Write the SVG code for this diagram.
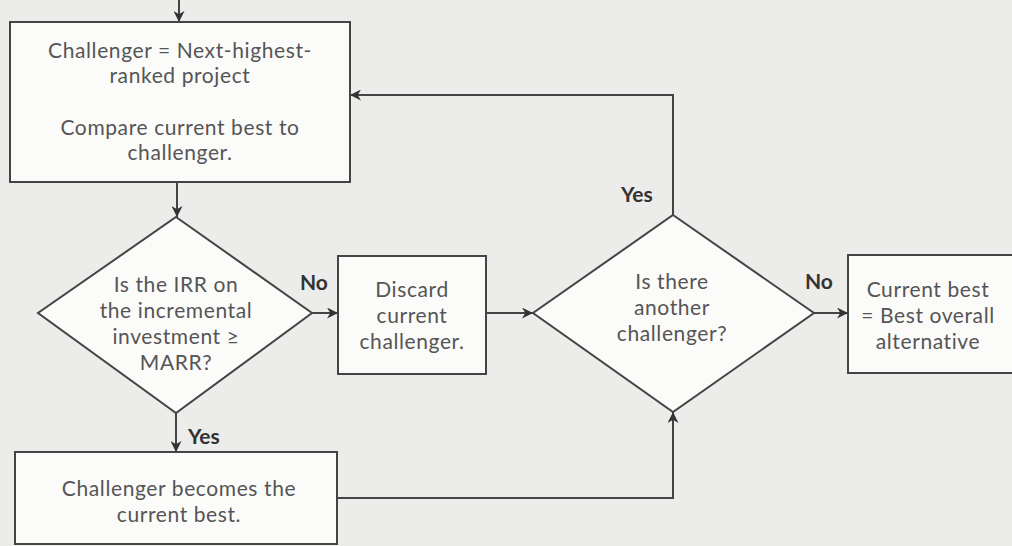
<svg xmlns="http://www.w3.org/2000/svg" width="1012" height="546" viewBox="0 0 1012 546">
<defs>
<marker id="arr" viewBox="0 0 10 10" refX="10" refY="5" markerWidth="11" markerHeight="11" markerUnits="userSpaceOnUse" orient="auto">
<path d="M0,0 L10,5 L0,10 L3,5 Z" fill="#333"/>
</marker>
</defs>
<style>
.bg{fill:#ececea}
.shape{fill:#fbfbfa;stroke:#444;stroke-width:2}
.t{font-family:Lato,"Open Sans","Liberation Sans",sans-serif;font-size:21px;letter-spacing:0.6px;fill:#555;text-anchor:middle}
.lbl{font-family:Lato,"Liberation Sans",sans-serif;font-size:21px;font-weight:bold;fill:#333}
.c{fill:none;stroke:#444;stroke-width:2;marker-end:url(#arr)}
</style>
<rect class="bg" x="0" y="0" width="1012" height="546"/>
<g id="connectors">
<path class="c" d="M179,0 L179,22"/>
<path class="c" d="M177,182 L177,217"/>
<path class="c" d="M312,313 L338,313"/>
<path class="c" d="M486,313 L533,313"/>
<path class="c" d="M814,313 L848,313"/>
<path class="c" d="M176,413 L176,452"/>
<path class="c" d="M337,498 L673,498 L673,412"/>
<path class="c" d="M673,215 L673,95 L350,95"/>
</g>
<g id="n_top">
<rect class="shape" x="10" y="22" width="340" height="160"/>
<text class="t" x="180" y="58">Challenger = Next-highest-</text>
<text class="t" x="180" y="83">ranked project</text>
<text class="t" x="180" y="135">Compare current best to</text>
<text class="t" x="180" y="160">challenger.</text>
</g>
<g id="n_irr">
<polygon class="shape" points="176,217 312,313 176,413 38,313"/>
<text class="t" x="176" y="292">Is the IRR on</text>
<text class="t" x="176" y="318">the incremental</text>
<text class="t" x="176" y="344">investment ≥</text>
<text class="t" x="176" y="370">MARR?</text>
</g>
<g id="n_discard">
<rect class="shape" x="338" y="256" width="148" height="118"/>
<text class="t" x="412" y="297">Discard</text>
<text class="t" x="412" y="323">current</text>
<text class="t" x="412" y="349">challenger.</text>
</g>
<g id="n_another">
<polygon class="shape" points="673,215 814,313 673,412 533,313"/>
<text class="t" x="672" y="289">Is there</text>
<text class="t" x="672" y="315">another</text>
<text class="t" x="672" y="341">challenger?</text>
</g>
<g id="n_final">
<rect class="shape" x="848" y="255" width="166" height="118"/>
<text class="t" x="928" y="297">Current best</text>
<text class="t" x="928" y="323">= Best overall</text>
<text class="t" x="928" y="349">alternative</text>
</g>
<g id="n_becomes">
<rect class="shape" x="15" y="452" width="322" height="92"/>
<text class="t" x="179" y="496">Challenger becomes the</text>
<text class="t" x="179" y="522">current best.</text>
</g>
<g id="labels">
<text class="lbl" x="300" y="290">No</text>
<text class="lbl" x="805" y="289">No</text>
<text class="lbl" x="188" y="444">Yes</text>
<text class="lbl" x="621" y="202">Yes</text>
</g>
</svg>
